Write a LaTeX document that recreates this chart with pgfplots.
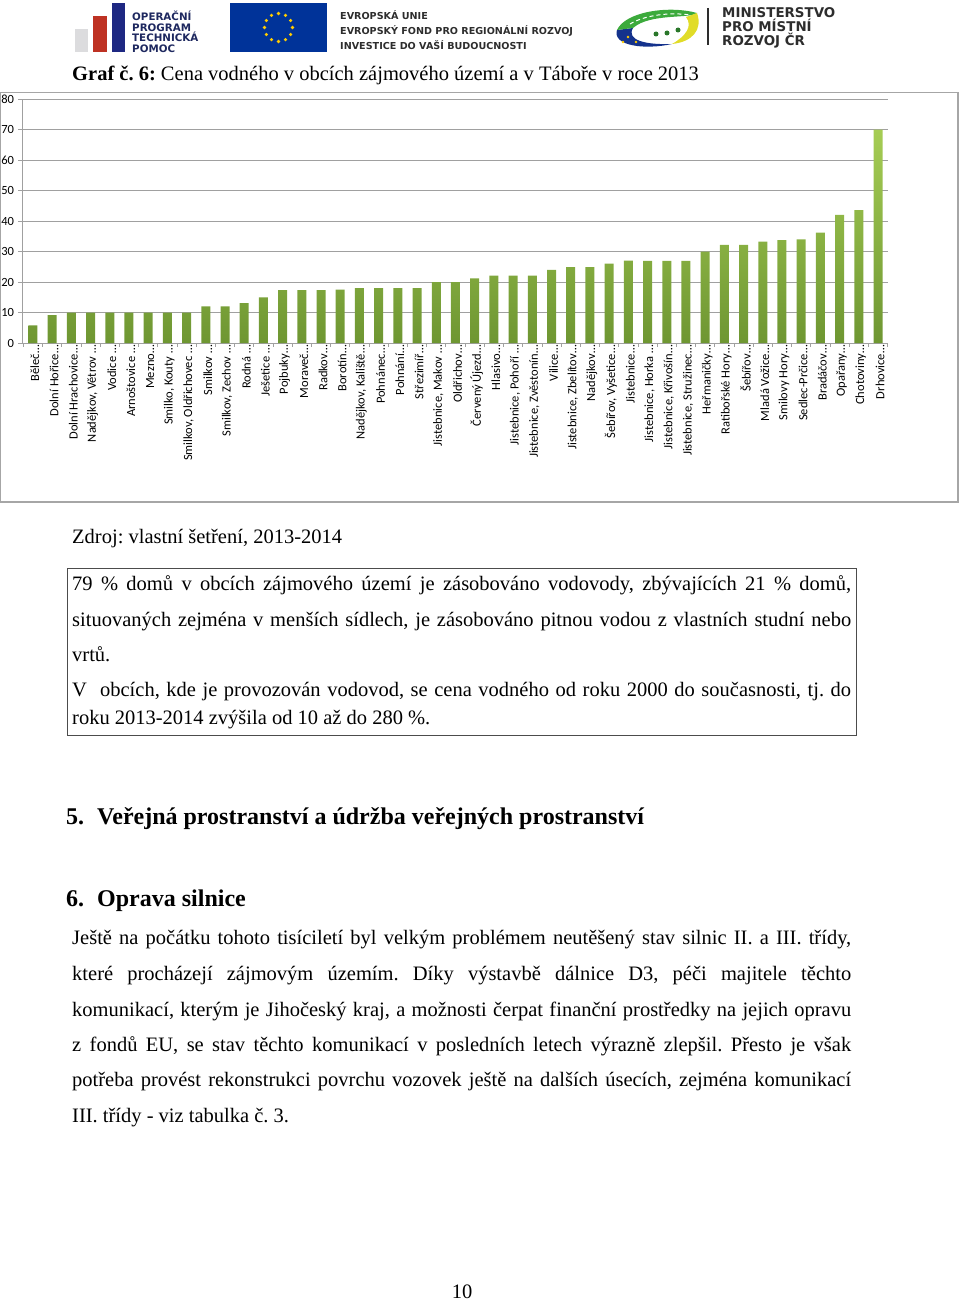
\documentclass[border=0pt]{standalone}
\usepackage{fontspec}
\setmainfont{Liberation Serif}
\newfontfamily\carlito{Carlito}
\newfontfamily\dvs{DejaVu Sans}
\usepackage{pgfplots}
\pgfplotsset{compat=1.18}
\definecolor{gridc}{RGB}{160,160,160}
\definecolor{bartop}{RGB}{166,205,84}
\definecolor{barbot}{RGB}{110,150,50}
\definecolor{navy}{RGB}{30,40,95}
\definecolor{eublue}{RGB}{0,51,153}
\definecolor{euyellow}{RGB}{255,204,0}
\definecolor{optred}{RGB}{190,50,35}
\definecolor{optblue}{RGB}{30,40,130}
\definecolor{optgray}{RGB}{220,220,222}
\definecolor{mmrtext}{RGB}{45,45,45}
\definecolor{mmrgreen}{RGB}{60,170,60}
\definecolor{mmryellow}{RGB}{225,220,40}
\definecolor{mmrblue}{RGB}{20,50,140}
\newcommand\body{\fontsize{20.5}{24}\selectfont}
\newcommand\head{\fontsize{24}{28}\selectfont\bfseries}
\frenchspacing
\begin{document}
\frenchspacing
\begin{tikzpicture}[x=1pt,y=-1pt]
\useasboundingbox (0,0) rectangle (960,1300);
% --- logos ---
\fill[optgray] (75,29) rectangle (88,52);
\fill[optred] (93,16) rectangle (107,52);
\fill[optblue] (112,3) rectangle (125,52);
\begin{scope}[every node/.style={anchor=base west, inner sep=0, text=navy, font=\dvs\bfseries\fontsize{10.3}{10}\selectfont}]
\node at (132,21) {OPERAČNÍ};
\node at (132,31.5) {PROGRAM};
\node at (132,42) {TECHNICKÁ};
\node at (132,52.5) {POMOC};
\end{scope}
\fill[eublue] (230,3) rectangle (327,52);
\foreach \a in {0,30,...,330}
  \fill[euyellow] ({278.5+14*cos(\a)},{27.5+14*sin(\a)}) circle (1.8);
\begin{scope}[every node/.style={anchor=base west, inner sep=0, text=mmrtext, font=\dvs\bfseries\fontsize{9.6}{10}\selectfont}]
\node at (340,20) {EVROPSKÁ UNIE};
\node at (340,35) {EVROPSKÝ FOND PRO REGIONÁLNÍ ROZVOJ};
\node at (340,50) {INVESTICE DO VAŠÍ BUDOUCNOSTI};
\end{scope}
% MMR swirl
\fill[mmrblue] (617,30) .. controls (612,46) and (645,50) .. (672,44) .. controls (645,45) and (626,40) .. (633,28) -- cycle;
\fill[mmrgreen] (617,30) .. controls (625,12) and (668,5) .. (697,13) .. controls (690,19) and (650,13) .. (633,28) -- cycle;
\fill[mmryellow] (697,13) .. controls (703,30) and (692,42) .. (672,44) .. controls (686,36) and (693,26) .. (686,17) -- cycle;
\fill[mmrgreen!70!black] (656,34) circle (2.5) (667,33) circle (2.5) (678,30) circle (2.5);
\draw[white, line width=1pt, dash pattern=on 4pt off 3pt] (630,24) .. controls (645,15) and (670,12) .. (690,15);
\fill[euyellow] (628,37) circle (1.3) (636,42) circle (1.3) (623,42) circle (1.3);
\draw[mmrtext, line width=1.2pt] (708,8) -- (708,45);
\begin{scope}[every node/.style={anchor=base west, inner sep=0, text=mmrtext, font=\dvs\bfseries\fontsize{13.4}{14}\selectfont}]
\node at (722,18) {MINISTERSTVO};
\node at (722,32) {PRO MÍSTNÍ};
\node at (722,46) {ROZVOJ ČR};
\end{scope}
% --- title ---
\node[anchor=base west, inner sep=0, font=\body] at (72,81) {\textbf{Graf č. 6:} Cena vodného v obcích zájmového území a v Táboře v roce 2013};
% --- chart frame ---
\draw[gray!70, line width=1.2pt] (0.6,92.5) rectangle (958,502);
\begin{axis}[
  at={(22pt,-343pt)}, anchor=south west,
  scale only axis, width=866pt, height=244pt,
  ymin=0, ymax=80, xmin=-0.57, xmax=44.52,
  ybar, bar width=9pt,
  axis lines*=left,
  axis line style={gridc, line width=0.8pt},
  ymajorgrids, grid style={gridc, line width=0.9pt},
  ytick={0,10,...,80},
  tick style={gridc, line width=0.8pt},
  tick align=outside, major tick length=3.5pt,
  /pgf/number format/assume math mode=true,
  yticklabel style={font=\carlito\fontsize{12.5}{12}\selectfont, text=black, xshift=-1pt},
  xtick={-0.5,0.5,...,44.5}, xticklabels={},
  extra x ticks={0,1,...,44},
  extra x tick style={major tick length=0pt, xticklabel style={rotate=90, anchor=east, font=\carlito\fontsize{12.5}{13}\selectfont, text=black, inner sep=2pt, yshift=-2pt}},
  extra x tick labels={Běleč…,Dolní Hořice…,Dolní Hrachovice…,{Nadějkov, Větrov …},Vodice …,Arnoštovice …,Mezno…,{Smilko, Kouty …},{Smilkov, Oldřichovec …},Smilkov …,{Smilkov, Zechov …},Rodná …,Ješetice …,Pojbuky…,Moraveč…,Radkov…,Borotín…,{Nadějkov, Kaliště…},Pohnánec…,Pohnání…,Střezimíř…,{Jistebnice, Makov …},Oldřichov…,Červený Újezd…,Hlasivo…,{Jistebnice, Pohoří …},{Jistebnice, Zvěstonín…},Vilice…,{Jistebnice, Zbelítov…},Nadějkov…,{Šebířov, Vyšetice…},Jistebnice…,{Jistebnice, Horka …},{Jistebnice, Křivošín…},{Jistebnice, Stružinec…},Heřmaničky…,Ratibořské Hory…,Šebířov…,Mladá Vožice…,Smilovy Hory…,Sedlec-Prčice…,Bradáčov…,Opařany…,Chotoviny…,Drhovice…},
]
\addplot[draw=none, top color=bartop, bottom color=barbot] coordinates {
(0,5.8) (1,9.1) (2,10) (3,10) (4,10) (5,10) (6,10) (7,10) (8,10)
(9,12) (10,12) (11,13.1) (12,15) (13,17.3) (14,17.3) (15,17.3) (16,17.5)
(17,18) (18,18) (19,18) (20,18) (21,20) (22,20) (23,21.2) (24,22.1)
(25,22.1) (26,22.1) (27,24) (28,24.9) (29,24.9) (30,26) (31,27) (32,26.9)
(33,26.9) (34,26.9) (35,30) (36,32.2) (37,32.2) (38,33.2) (39,33.7)
(40,34) (41,36.2) (42,42) (43,43.6) (44,70)
};
\end{axis}
% --- source ---
\node[anchor=base west, inner sep=0, font=\body] at (72,543) {Zdroj: vlastní šetření, 2013-2014};
% --- box ---
\draw[black!70, line width=1pt] (67,568) rectangle (856,735);
\begin{scope}[every node/.style={anchor=base west, inner sep=0, font=\body}]
\node at (72,590) {\makebox[779pt][s]{79 \% domů v obcích zájmového území je zásobováno vodovody, zbývajících 21 \% domů,}};
\node at (72,626) {\makebox[779pt][s]{situovaných zejména v menších sídlech, je zásobováno pitnou vodou z vlastních studní nebo}};
\node at (72,661) {vrtů.};
\node at (72,696) {\makebox[779pt][s]{V\ \ obcích, kde je provozován vodovod, se cena vodného od roku 2000 do současnosti, tj. do}};
\node at (72,724) {roku 2013-2014 zvýšila od 10 až do 280 \%.};
\end{scope}
% --- headings ---
\node[anchor=base west, inner sep=0, font=\head] at (66,824) {5.};
\node[anchor=base west, inner sep=0, font=\head] at (97,824) {Veřejná prostranství a údržba veřejných prostranství};
\node[anchor=base west, inner sep=0, font=\head] at (66,906) {6.};
\node[anchor=base west, inner sep=0, font=\head] at (97,906) {Oprava silnice};
\begin{scope}[every node/.style={anchor=base west, inner sep=0, font=\body}]
\node at (72,944) {\makebox[779pt][s]{Ještě na počátku tohoto tisíciletí byl velkým problémem neutěšený stav silnic II. a III. třídy,}};
\node at (72,980) {\makebox[779pt][s]{které procházejí zájmovým územím. Díky výstavbě dálnice D3, péči majitele těchto}};
\node at (72,1016) {\makebox[779pt][s]{komunikací, kterým je Jihočeský kraj, a možnosti čerpat finanční prostředky na jejich opravu}};
\node at (72,1051) {\makebox[779pt][s]{z fondů EU, se stav těchto komunikací v posledních letech výrazně zlepšil. Přesto je však}};
\node at (72,1086) {\makebox[779pt][s]{potřeba provést rekonstrukci povrchu vozovek ještě na dalších úsecích, zejména komunikací}};
\node at (72,1122) {III. třídy - viz tabulka č. 3.};
\end{scope}
\node[anchor=base, inner sep=0, font=\body] at (462,1298) {10};
\end{tikzpicture}
\end{document}
